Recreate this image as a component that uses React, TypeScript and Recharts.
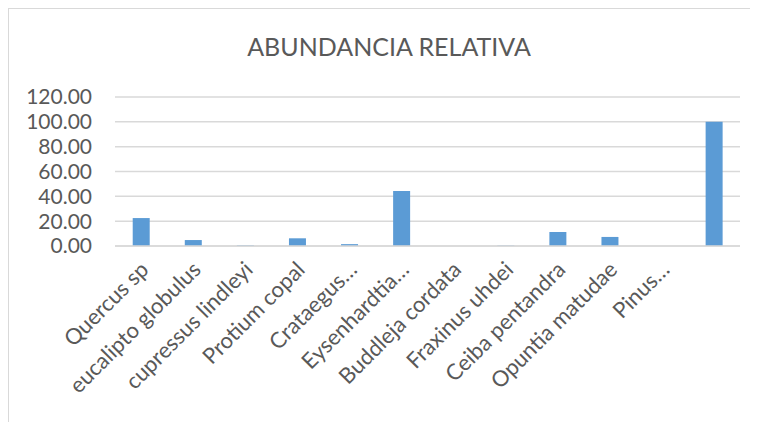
import { BarChart, Bar, XAxis, YAxis, CartesianGrid } from "recharts";

const species = [
  "Quercus sp",
  "eucalipto globulus",
  "cupressus lindleyi",
  "Protium copal",
  "Crataegus…",
  "Eysenhardtia…",
  "Buddleja cordata",
  "Fraxinus uhdei",
  "Ceiba pentandra",
  "Opuntia matudae",
  "Pinus…",
  "",
];
const abundance = [22.5, 4.8, 0.5, 6.2, 1.5, 44.2, 0, 0.3, 11.3, 7.3, 0, 100];
const yTicks = [0, 20, 40, 60, 80, 100, 120];

const data = species.map((name, i) => ({ name, value: abundance[i] }));

const FONT = "Lato, 'Open Sans', sans-serif";
const TEXT = "#595959";

function SpeciesTick(props: any) {
  const { x, y, payload } = props;
  return (
    <g transform={`translate(${x + 9},${y + 17})`}>
      <text
        transform="rotate(-45)"
        textAnchor="end"
        fill={TEXT}
        fontSize={22}
        fontFamily={FONT}
      >
        {payload.value}
      </text>
    </g>
  );
}

export default function App() {
  return (
    <div
      style={{
        position: "relative",
        width: 760,
        height: 440,
        border: "1px solid #d9d9d9",
        background: "#fff",
        boxSizing: "border-box",
      }}
    >
      <div
        style={{
          position: "absolute",
          left: 0,
          width: 760,
          top: 22,
          textAlign: "center",
          fontFamily: FONT,
          fontSize: 25,
          color: TEXT,
        }}
      >
        ABUNDANCIA RELATIVA
      </div>
      <BarChart
        width={750}
        height={430}
        data={data}
        margin={{ top: 88, right: 19, left: 0, bottom: 0 }}
        barCategoryGap="34%"
      >
        <CartesianGrid vertical={false} stroke="#d9d9d9" strokeWidth={1.5} />
        <XAxis
          dataKey="name"
          interval={0}
          height={193}
          tickLine={false}
          axisLine={{ stroke: "#d9d9d9", strokeWidth: 1.5 }}
          tick={<SpeciesTick />}
        />
        <YAxis
          width={106}
          domain={[0, 120]}
          ticks={yTicks}
          interval={0}
          axisLine={false}
          tickLine={false}
          tickSize={0}
          tickMargin={23}
          tickFormatter={(v: number) => v.toFixed(2)}
          tick={{ fill: TEXT, fontSize: 21, fontFamily: FONT }}
        />
        <Bar dataKey="value" fill="#5b9bd5" isAnimationActive={false} />
      </BarChart>
    </div>
  );
}
